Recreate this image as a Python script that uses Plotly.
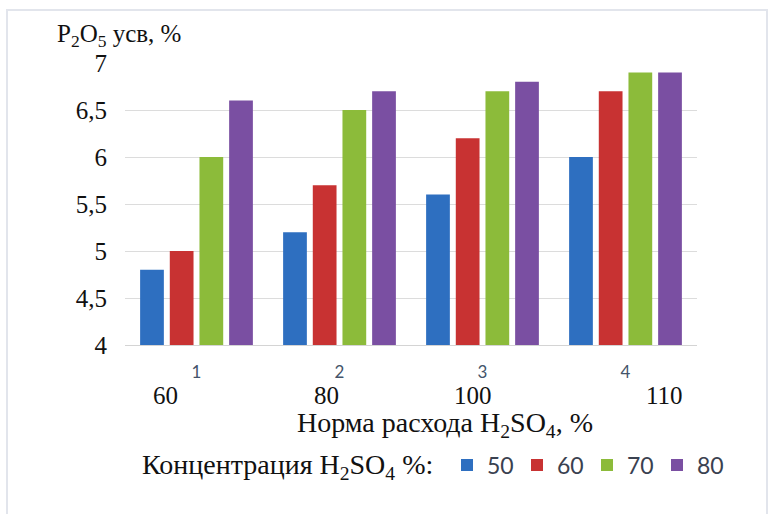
import plotly.graph_objects as go

# Acid consumption rate groups and the two rows of category labels
groups = [1, 2, 3, 4]
rate_labels = ["60", "80", "100", "110"]

# Assimilable P2O5 (%) for each H2SO4 concentration
conc_50 = [4.8, 5.2, 5.6, 6.0]
conc_60 = [5.0, 5.7, 6.2, 6.7]
conc_70 = [6.0, 6.5, 6.7, 6.9]
conc_80 = [6.6, 6.7, 6.8, 6.9]

series = [
    ("50", conc_50, "#2E6FC0"),
    ("60", conc_60, "#C83232"),
    ("70", conc_70, "#8CBB3A"),
    ("80", conc_80, "#7A4FA2"),
]

W, H = 770, 514
L, R, T, B = 125, 73, 63, 169
pw, ph = W - L - R, H - T - B


def px_x(x):
    return (x - L) / pw


def px_y(y):
    return (H - B - y) / ph


serif = "Liberation Serif, Times New Roman, serif"
sans = "Lato, Open Sans, sans-serif"

fig = go.Figure()
for name, vals, color in series:
    fig.add_trace(go.Bar(
        x=[str(g) for g in groups], y=vals, name=name,
        marker=dict(color=color, line=dict(width=0)),
    ))

annotations = [
    dict(text="P<sub>2</sub>O<sub>5</sub> усв, %", xref="paper", yref="paper",
         x=px_x(55), y=px_y(35), xanchor="left", yanchor="middle",
         showarrow=False, font=dict(family=serif, size=25, color="#111111")),
    dict(text="Норма расхода H<sub>2</sub>SO<sub>4</sub>, %", xref="paper", yref="paper",
         x=px_x(445), y=px_y(424), xanchor="center", yanchor="middle",
         showarrow=False, font=dict(family=serif, size=28, color="#111111")),
    # caption in front of the legend entries
    dict(text="Концентрация H<sub>2</sub>SO<sub>4</sub> %:", xref="paper", yref="paper",
         x=px_x(140), y=px_y(466), xanchor="left", yanchor="middle",
         showarrow=False, font=dict(family=serif, size=28, color="#111111")),
]
for lab, xp in zip(rate_labels, [165, 326, 473, 664]):
    annotations.append(dict(
        text=lab, xref="paper", yref="paper", x=px_x(xp), y=px_y(395),
        xanchor="center", yanchor="middle", showarrow=False,
        font=dict(family=serif, size=25, color="#111111")))

fig.update_layout(
    width=W, height=H,
    margin=dict(l=L, r=R, t=T, b=B),
    paper_bgcolor="white", plot_bgcolor="white",
    separators=", ",
    barmode="group", bargap=0.17, bargroupgap=0.2,
    showlegend=True,
    legend=dict(
        orientation="h", x=px_x(447), y=px_y(465),
        xanchor="left", yanchor="middle",
        font=dict(family=sans, size=23, color="#3A4150"),
        entrywidth=25, entrywidthmode="pixels",
        itemwidth=30, bgcolor="rgba(0,0,0,0)",
    ),
    xaxis=dict(
        showgrid=False, showline=True, linecolor="#D4D4D4", linewidth=1,
        ticks="", tickfont=dict(family=sans, size=17, color="#44546A"),
        ticklabelstandoff=12,
    ),
    yaxis=dict(
        range=[4, 7], dtick=0.5, tick0=4,
        showgrid=True, gridcolor="#DCDCDC", gridwidth=1,
        zeroline=False, showline=False, ticks="",
        tickfont=dict(family=serif, size=25, color="#111111"),
        ticklabelstandoff=17,
    ),
    annotations=annotations,
    shapes=[dict(type="rect", xref="paper", yref="paper",
                 x0=px_x(7), x1=px_x(767), y0=px_y(530), y1=px_y(10),
                 line=dict(color="#E2E5EC", width=2), layer="below")],
)

fig.write_html("out.html")
